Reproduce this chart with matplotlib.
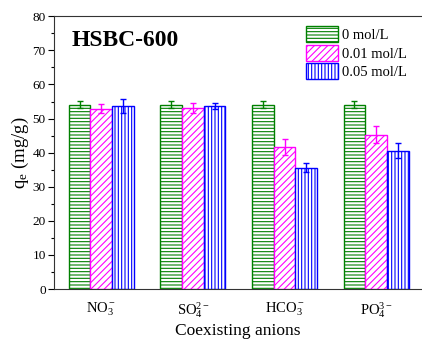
import numpy as np
import matplotlib
matplotlib.use("Agg")
import matplotlib.pyplot as plt
from matplotlib.ticker import MultipleLocator

plt.rcParams['font.family'] = ['Liberation Serif', 'DejaVu Serif']
plt.rcParams['mathtext.fontset'] = 'custom'
plt.rcParams['mathtext.rm'] = 'Liberation Serif'
plt.rcParams['mathtext.it'] = 'Liberation Serif:italic'
plt.rcParams['mathtext.bf'] = 'Liberation Serif:bold'
plt.rcParams['hatch.linewidth'] = 0.8

# adsorption capacity with coexisting anions at three concentrations
anions = [r'NO$_3^-$', r'SO$_4^{2-}$', r'HCO$_3^-$', r'PO$_4^{3-}$']
conc_labels = ['0 mol/L', '0.01 mol/L', '0.05 mol/L']
q_0 = [54.1, 54.1, 54.1, 54.1]
q_001 = [52.9, 53.1, 41.7, 45.3]
q_005 = [53.6, 53.8, 35.6, 40.6]
err_0 = [1.0, 1.0, 1.0, 1.0]
err_001 = [1.4, 1.5, 2.4, 2.5]
err_005 = [2.1, 0.9, 1.4, 2.2]

colors = ['#008000', '#FF00FF', '#0000FF']
hatches = ['-----', '/////', '|||||']

fig = plt.figure(figsize=(4.22, 3.45), dpi=100)
ax = fig.add_axes([54/422, 1 - 289/345, 1 - 54/422, (289 - 16.3)/345])

x = np.arange(1, len(anions) + 1)
w = 0.237
series = [(q_0, err_0), (q_001, err_001), (q_005, err_005)]
for i, (vals, errs) in enumerate(series):
    pos = x + (i - 1) * w
    ax.bar(pos, vals, w, color='white', edgecolor=colors[i], hatch=hatches[i],
           linewidth=1.0, label=conc_labels[i], zorder=2)
    ax.errorbar(pos, vals, yerr=errs, fmt='none', ecolor=colors[i],
                elinewidth=1.0, capsize=2.5, capthick=1.0, zorder=3)

ax.set_xlim(0.484, 4.5)
ax.set_ylim(0, 80)
ax.set_xticks(x)
ax.set_xticklabels(anions, fontsize=10.5)
ax.tick_params(axis='x', length=0, pad=8)
ax.yaxis.set_major_locator(MultipleLocator(10))
ax.yaxis.set_minor_locator(MultipleLocator(5))
ax.tick_params(axis='y', which='major', length=4, width=0.8, labelsize=9.5, pad=2)
ax.tick_params(axis='y', which='minor', length=2.5, width=0.8)
ax.spines['right'].set_visible(False)
for s in ['left', 'top', 'bottom']:
    ax.spines[s].set_linewidth(0.8)
    ax.spines[s].set_color('#333333')

ax.set_xlabel('Coexisting anions', fontsize=12.5, labelpad=2.5)
ax.set_ylabel(r'q$_\mathrm{e}$ (mg/g)', fontsize=13.5, labelpad=1)

fig.text(72/422, 1 - 46.5/345, 'HSBC-600', fontsize=17, fontweight='bold',
         va='baseline', ha='left')

ax.legend(loc='upper left', bbox_to_anchor=(306/422, 1 - 26/345),
          bbox_transform=fig.transFigure, frameon=False, fontsize=10.5,
          handlelength=2.2, handleheight=1.35, handletextpad=0.25,
          labelspacing=0.15, borderpad=0, borderaxespad=0)

fig.savefig('out.png', dpi=100)
